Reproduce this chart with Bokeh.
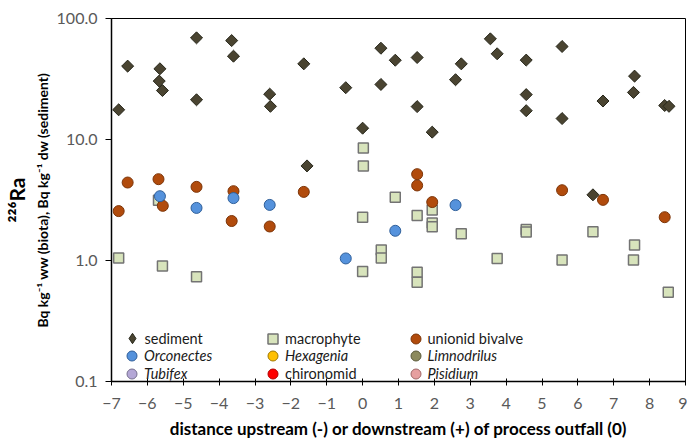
import math

from bokeh.embed import file_html
from bokeh.models import (CustomJSTickFormatter, FixedTicker, Legend, LegendItem,
                          LinearAxis, Range1d)
from bokeh.plotting import figure
from bokeh.resources import INLINE

# 226Ra activity versus distance from the process outfall (km)
sediment_x = [-6.80, -6.55, -5.65, -5.67, -5.58, -4.63, -4.63, -3.65, -3.60, -2.59,
              -2.57, -1.64, -1.55, -0.47, 0.00, 0.51, 0.51, 0.91, 1.52, 1.52,
              1.94, 2.59, 2.75, 3.56, 3.75, 4.56, 4.56, 4.56, 5.56, 5.56,
              6.42, 6.70, 7.58, 7.55, 8.42, 8.54]
sediment_y = [17.6, 40.4, 38.4, 30.4, 25.4, 69.2, 21.3, 65.7, 48.8, 23.7,
              18.8, 42.2, 6.05, 26.8, 12.4, 56.8, 28.5, 45.2, 47.6, 18.7,
              11.5, 31.2, 42.2, 67.9, 51.1, 45.3, 23.5, 17.3, 58.7, 14.9,
              3.49, 20.8, 33.4, 24.5, 19.1, 18.8]

macrophyte_x = [-6.80, -5.69, -5.58, -4.63, 0.02, 0.02, 0.00, 0.00, 0.52, 0.52,
                0.91, 1.52, 1.52, 1.52, 1.94, 1.94, 1.94, 2.75, 3.75, 4.56,
                4.56, 5.56, 6.42, 7.58, 7.55, 8.52]
macrophyte_y = [1.05, 3.15, 0.90, 0.735, 8.5, 6.05, 2.28, 0.81, 1.22, 1.05,
                3.34, 2.36, 0.80, 0.66, 2.61, 2.04, 1.90, 1.66, 1.04, 1.80,
                1.72, 1.01, 1.73, 1.34, 1.01, 0.547]

unionid_x = [-6.80, -6.55, -5.69, -5.57, -4.63, -3.60, -3.65, -2.59, -1.64, 1.52,
             1.52, 1.94, 5.56, 6.70, 8.42]
unionid_y = [2.56, 4.41, 4.70, 2.83, 4.06, 3.74, 2.12, 1.91, 3.69, 5.17,
             4.17, 3.04, 3.81, 3.17, 2.28]

orconectes_x = [-5.65, -4.63, -3.60, -2.59, -0.47, 0.91, 2.59]
orconectes_y = [3.40, 2.72, 3.28, 2.88, 1.04, 1.76, 2.87]

# taxa in the key that have no measurement here
no_data = [float("nan")]

x_ticks = list(range(-7, 10))
y_ticks = [0.1, 1, 10, 100]

FONT = "Lato"

p = figure(width=687, height=441, y_axis_type="log",
           x_range=Range1d(-7, 9), y_range=Range1d(0.1, 100),
           output_backend="svg", toolbar_location=None,
           min_border_left=106, min_border_right=2,
           min_border_top=18, min_border_bottom=57)
p.xgrid.visible = False
p.ygrid.visible = False
p.outline_line_color = "#000000"
p.outline_line_width = 1
p.background_fill_color = "white"
p.border_fill_color = "white"

SED = dict(fill_color="#4a4431", line_color="#26261a", line_width=1)

# series, drawn in this order so later ones sit on top
r_sed = p.scatter(sediment_x, sediment_y, marker="square", angle=math.pi / 4, size=8.5, **SED)
r_mac = p.scatter(macrophyte_x, macrophyte_y, marker="square", size=10,
                  fill_color="#d8e4bc", line_color="#737373", line_width=1.5)
r_uni = p.scatter(unionid_x, unionid_y, marker="circle", size=11,
                  fill_color="#b14b0c", line_color="#7d3508", line_width=1)
r_orc = p.scatter(orconectes_x, orconectes_y, marker="circle", size=11,
                  fill_color="#5592dc", line_color="#2f5f9a", line_width=1)

# key-only glyphs
k_sed = p.scatter(no_data, no_data, marker="diamond", size=10, **SED)
r_hex = p.scatter(no_data, no_data, marker="circle", size=11, fill_color="#ffc000",
                  line_color="#a07800", line_width=1)
r_lim = p.scatter(no_data, no_data, marker="circle", size=11, fill_color="#8c8a5c",
                  line_color="#5a5a3a", line_width=1)
r_tub = p.scatter(no_data, no_data, marker="circle", size=11, fill_color="#b4a7d6",
                  line_color="#77708f", line_width=1)
r_chi = p.scatter(no_data, no_data, marker="circle", size=11, fill_color="#ff0000",
                  line_color="#b00000", line_width=1)
r_pis = p.scatter(no_data, no_data, marker="circle", size=11, fill_color="#e6a0a0",
                  line_color="#a06868", line_width=1)

# key laid out as a 3 x 3 grid inside the frame
key_cols = [20.5, 161.5, 304.0]   # marker centre, px from frame left
key_rows = [43.0, 25.5, 8.0]      # marker centre, px above frame bottom
key = [
    (k_sed, "sediment", 0, 0, "normal", 26),
    (r_mac, "macrophyte", 1, 0, "normal", 25),
    (r_uni, "unionid bivalve", 2, 0, "normal", 25),
    (r_orc, "Orconectes", 0, 1, "italic", 25),
    (r_hex, "Hexagenia", 1, 1, "italic", 25),
    (r_lim, "Limnodrilus", 2, 1, "italic", 25),
    (r_tub, "Tubifex", 0, 2, "italic", 25),
    (r_chi, "chironomid", 1, 2, "normal", 25),
    (r_pis, "Pisidium", 2, 2, "italic", 25),
]
for rend, label, col, row, style, gw in key:
    gh = gw
    leg = Legend(items=[LegendItem(label=label, renderers=[rend])],
                 location=(key_cols[col] - gw / 2, key_rows[row] - gh / 2),
                 padding=0, margin=0, spacing=0,
                 glyph_width=gw, glyph_height=gh, label_height=gh,
                 label_standoff=10 - gw // 2 - (gw % 2),
                 border_line_color=None, background_fill_alpha=0,
                 label_text_font=FONT, label_text_font_size="14.5px",
                 label_text_font_style=style, label_text_color="#1a1a1a")
    p.add_layout(leg, "center")

# x axis
xa = p.xaxis[0]
xa.ticker = FixedTicker(ticks=x_ticks, minor_ticks=[])
xa.axis_line_color = "#000000"
xa.axis_line_width = 1.5
xa.major_tick_line_color = "#000000"
xa.major_tick_in = 3
xa.major_tick_out = 4
xa.minor_tick_line_color = None
xa.major_label_text_font = FONT
xa.major_label_text_font_size = "16px"
xa.major_label_text_color = "#595959"
xa.major_label_standoff = 12
xa.axis_label = "distance upstream (-) or downstream (+) of process outfall (0)"
xa.axis_label_text_font = FONT
xa.axis_label_text_font_size = "17px"
xa.axis_label_text_font_style = "bold"
xa.axis_label_text_color = "#000000"
xa.axis_label_standoff = 6

# y axis (log)
ya = p.yaxis[0]
ya.ticker = FixedTicker(ticks=y_ticks, minor_ticks=[])
ya.formatter = CustomJSTickFormatter(code="return tick.toFixed(1);")
ya.axis_line_color = "#000000"
ya.axis_line_width = 1.5
ya.major_tick_line_color = "#000000"
ya.major_tick_in = 0
ya.major_tick_out = 6
ya.minor_tick_line_color = None
ya.major_label_text_font = FONT
ya.major_label_text_font_size = "16px"
ya.major_label_text_color = "#595959"
ya.major_label_standoff = 8
ya.axis_label = "Bq kg\u207b\u00b9 ww (biota), Bq kg\u207b\u00b9 dw (sediment)"
ya.axis_label_text_font = FONT
ya.axis_label_text_font_size = "14px"
ya.axis_label_text_font_style = "bold"
ya.axis_label_text_color = "#000000"
ya.axis_label_standoff = 3

# outer line of the y title: the nuclide
ra_axis = LinearAxis(ticker=FixedTicker(ticks=[]),
                     axis_label="\u00b2\u00b2\u2076Ra",
                     axis_label_text_font=FONT, axis_label_text_font_size="21px",
                     axis_label_text_font_style="bold", axis_label_text_color="#000000",
                     axis_label_standoff=2, axis_line_color=None,
                     major_tick_line_color=None, minor_tick_line_color=None,
                     major_tick_in=0, major_tick_out=0,
                     major_label_text_font_size="0px", major_label_standoff=0)
p.add_layout(ra_axis, "left")

open("out.html", "w").write(file_html(p, INLINE))
